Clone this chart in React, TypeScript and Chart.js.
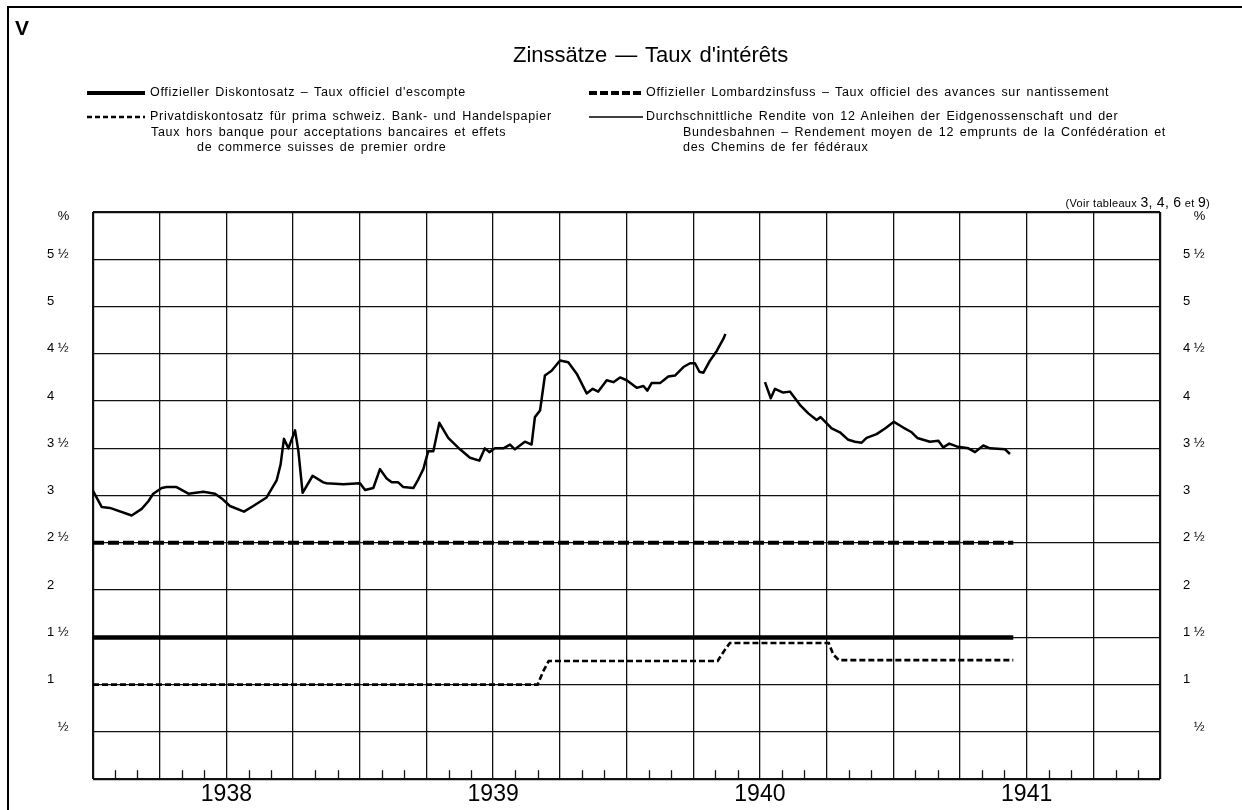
import React, { useEffect, useRef } from "react";
import { Chart, registerables } from "chart.js";

Chart.register(...registerables);

const FONT = '"Liberation Sans", Arial, Helvetica, sans-serif';

// x values are months counted from 1 January 1938 (0) to 1 January 1942 (48)
const yearLabels = ["1938", "1939", "1940", "1941"];
const yearLabelMonths = [6, 18, 30, 42];
const gridMonths = [0, 3, 6, 9, 12, 15, 18, 21, 24, 27, 30, 33, 36, 39, 42, 45, 48];
const minorTickMonths = [1, 2, 4, 5, 7, 8, 10, 11, 13, 14, 16, 17, 19, 20, 22, 23, 25, 26, 28, 29, 31, 32, 34, 35, 37, 38, 40, 41, 43, 44, 46, 47];

const yTickValues = [0, 0.5, 1, 1.5, 2, 2.5, 3, 3.5, 4, 4.5, 5, 5.5, 6];
const yTickLabels = ["", "½", "1", "1½", "2", "2½", "3", "3½", "4", "4½", "5", "5½", ""];
const unitLabel = "%";
const unitLabelValue = 5.9;

// Offizieller Diskontosatz
const diskontMonths = [0, 41.4];
const diskontRates = [1.5, 1.5];

// Offizieller Lombardzinsfuss
const lombardMonths = [0, 41.4];
const lombardRates = [2.5, 2.5];

// Privatdiskontosatz
const privatMonths = [0, 10, 20.0, 20.25, 20.5, 28.1, 28.4, 28.65, 33.1, 33.3, 33.55, 41.4];
const privatRates = [1.0, 1.0, 1.0, 1.14, 1.25, 1.25, 1.36, 1.44, 1.44, 1.32, 1.26, 1.26];

// Durchschnittliche Rendite (gap at the turn of 1939/1940)
const renditeMonths = [
  0.0, 0.39, 0.76, 1.74, 2.19, 2.49, 2.71, 3.09, 3.31, 3.76, 4.29, 4.96, 5.49, 5.79, 6.16,
  6.79, 7.21, 7.81, 8.26, 8.44, 8.59, 8.79, 9.09, 9.24, 9.43, 9.88, 10.36, 10.51, 11.26,
  12.01, 12.24, 12.61, 12.91, 13.21, 13.44, 13.73, 13.96, 14.41, 14.63, 14.86, 15.08, 15.31,
  15.58, 15.98, 16.51, 16.96, 17.38, 17.63, 17.83, 18.08, 18.46, 18.76, 18.98, 19.43, 19.73,
  19.88, 20.11, 20.33, 20.63, 21.01, 21.38, 21.76, 22.21, 22.48, 22.73, 23.11, 23.41, 23.71,
  24.01, 24.46, 24.76, 24.94, 25.13, 25.51, 25.88, 26.18, 26.56, 26.86, 27.08, 27.28, 27.46,
  27.76, 28.06, 28.36, 28.45,
  29.4,
  30.23, 30.49, 30.68, 31.05, 31.35, 31.8, 32.18, 32.55, 32.73, 33.23, 33.6, 33.98, 34.28,
  34.58, 34.8, 35.25, 35.63, 36.03, 36.45, 36.83, 37.08, 37.65, 38.03, 38.25, 38.52, 38.85,
  39.38, 39.68, 40.05, 40.35, 41.03, 41.25,
];
const renditeRates = [
  3.05, 2.88, 2.87, 2.79, 2.86, 2.94, 3.02, 3.08, 3.09, 3.09, 3.02, 3.04, 3.02, 2.97, 2.89,
  2.83, 2.89, 2.98, 3.16, 3.33, 3.6, 3.5, 3.69, 3.47, 3.03, 3.21, 3.14, 3.13, 3.12,
  3.13, 3.06, 3.08, 3.28, 3.18, 3.14, 3.14, 3.09, 3.08, 3.17, 3.28, 3.47, 3.47,
  3.77, 3.61, 3.49, 3.4, 3.37, 3.5, 3.46, 3.5, 3.5, 3.54, 3.49, 3.57, 3.54,
  3.83, 3.9, 4.27, 4.32, 4.43, 4.41, 4.29, 4.08, 4.13, 4.1, 4.22, 4.2, 4.25,
  4.22, 4.14, 4.16, 4.11, 4.19, 4.19, 4.26, 4.27, 4.36, 4.4, 4.4, 4.31, 4.3,
  4.43, 4.53, 4.66, 4.71,
  null,
  4.2, 4.03, 4.13, 4.09, 4.1, 3.96, 3.87, 3.8, 3.83, 3.71, 3.67, 3.59, 3.57,
  3.56, 3.61, 3.65, 3.71, 3.78, 3.72, 3.67, 3.61, 3.57, 3.58, 3.51, 3.55, 3.52,
  3.5, 3.46, 3.53, 3.5, 3.49, 3.44,
];

const toPoints = (xs: number[], ys: (number | null)[]) => xs.map((x, i) => ({ x, y: ys[i] }));

const yLabel = (v: number) => {
  if (v === unitLabelValue) return "   " + unitLabel;
  const i = yTickValues.indexOf(v);
  const t = i >= 0 ? yTickLabels[i] : "";
  if (t === "½") return "   " + t;
  if (t.endsWith("½")) return t.slice(0, -1) + " ½";
  return t;
};

const yTicksWithUnit = () =>
  [...yTickValues.slice(0, -1), unitLabelValue, yTickValues[yTickValues.length - 1]].map((v) => ({ value: v }));

const minorTicksPlugin = {
  id: "minorTicks",
  afterDatasetsDraw(chart: any) {
    const { ctx, chartArea } = chart;
    const x = chart.scales.x;
    ctx.save();
    ctx.strokeStyle = "#111";
    ctx.lineWidth = 1.3;
    for (const m of minorTickMonths) {
      const px = Math.round(x.getPixelForValue(m)) + 0.5;
      ctx.beginPath();
      ctx.moveTo(px, chartArea.bottom);
      ctx.lineTo(px, chartArea.bottom - 9);
      ctx.stroke();
    }
    ctx.restore();
  },
};

function LegendLine({ dash, width, len }: { dash?: string; width: number; len: number }) {
  return (
    <svg width={len} height={8} style={{ position: "absolute", left: 0, top: 0 }}>
      <line x1={1} y1={4} x2={len - 1} y2={4} stroke="#000" strokeWidth={width} strokeDasharray={dash} />
    </svg>
  );
}

const legendText: React.CSSProperties = {
  position: "absolute",
  fontSize: 12.5,
  lineHeight: "15px",
  whiteSpace: "nowrap",
  letterSpacing: 0.7,
  wordSpacing: 1.5,
};

export default function App() {
  const ref = useRef<HTMLCanvasElement | null>(null);

  useEffect(() => {
    const canvas = ref.current;
    if (!canvas) return;
    const gridWidth = (edgeA: number, edgeB: number) => (c: any) => {
      if (!c.tick) return 1.3;
      if (c.tick.value === unitLabelValue && edgeB === 6) return 0;
      return c.tick.value === edgeA || c.tick.value === edgeB ? 2.2 : 1.3;
    };
    const chart = new Chart(canvas, {
      type: "line",
      data: {
        datasets: [
          {
            label: "Offizieller Diskontosatz",
            data: toPoints(diskontMonths, diskontRates),
            borderColor: "#000",
            borderWidth: 4.5,
            pointRadius: 0,
          },
          {
            label: "Offizieller Lombardzinsfuss",
            data: toPoints(lombardMonths, lombardRates),
            borderColor: "#000",
            borderWidth: 4,
            borderDash: [11, 4],
            pointRadius: 0,
          },
          {
            label: "Privatdiskontosatz",
            data: toPoints(privatMonths, privatRates),
            borderColor: "#000",
            borderWidth: 2.6,
            borderDash: [6, 3],
            pointRadius: 0,
          },
          {
            label: "Durchschnittliche Rendite",
            data: toPoints(renditeMonths, renditeRates),
            borderColor: "#000",
            borderWidth: 2.5,
            pointRadius: 0,
            spanGaps: false,
            borderJoinStyle: "round",
          },
        ],
      },
      options: {
        animation: false,
        responsive: false,
        maintainAspectRatio: false,
        layout: { padding: { left: 47, top: 212, right: 0, bottom: 0 } },
        plugins: { legend: { display: false }, tooltip: { enabled: false }, title: { display: false } },
        scales: {
          x: {
            type: "linear",
            min: 0,
            max: 48,
            afterBuildTicks: (s: any) => {
              s.ticks = gridMonths.map((v) => ({ value: v }));
            },
            afterFit: (s: any) => {
              s.height = 26;
            },
            ticks: {
              autoSkip: false,
              maxRotation: 0,
              padding: 2,
              color: "#000",
              font: { family: FONT, size: 23 },
              callback: (v: any) => {
                const i = yearLabelMonths.indexOf(Number(v));
                return i >= 0 ? yearLabels[i] : "";
              },
            },
            grid: {
              color: "#111",
              drawTicks: false,
              lineWidth: gridWidth(0, 48),
            },
            border: { display: false },
          },
          y: {
            type: "linear",
            position: "left",
            min: 0,
            max: 6,
            afterBuildTicks: (s: any) => {
              s.ticks = yTicksWithUnit();
            },
            afterFit: (s: any) => {
              s.width = 46;
            },
            ticks: {
              autoSkip: false,
              crossAlign: "far",
              labelOffset: -5,
              color: "#000",
              font: { family: FONT, size: 13 },
              callback: (v: any) => yLabel(Number(v)),
            },
            grid: {
              color: "#111",
              drawTicks: false,
              lineWidth: gridWidth(0, 6),
            },
            border: { display: false },
          },
          y2: {
            type: "linear",
            position: "right",
            min: 0,
            max: 6,
            afterBuildTicks: (s: any) => {
              s.ticks = yTicksWithUnit();
            },
            afterFit: (s: any) => {
              s.width = 82;
            },
            ticks: {
              autoSkip: false,
              padding: 23,
              labelOffset: -5,
              color: "#000",
              font: { family: FONT, size: 13 },
              callback: (v: any) => yLabel(Number(v)),
            },
            grid: { display: false, drawTicks: false },
            border: { display: false },
          },
        },
      },
      plugins: [minorTicksPlugin],
    } as any);
    return () => chart.destroy();
  }, []);

  return (
    <div
      style={{
        position: "fixed",
        left: 0,
        top: 0,
        width: 1242,
        height: 810,
        background: "#fff",
        fontFamily: FONT,
        color: "#000",
        overflow: "hidden",
      }}
    >
      <canvas ref={ref} width={1242} height={810} style={{ position: "absolute", left: 0, top: 0 }} />
      <div style={{ position: "absolute", left: 7, top: 6, width: 1242, height: 810, borderLeft: "2px solid #000", borderTop: "2px solid #000" }} />
      <div style={{ position: "absolute", left: 15, top: 17, fontSize: 21, lineHeight: "21px", fontWeight: "bold" }}>V</div>
      <div style={{ position: "absolute", left: 513, top: 44, fontSize: 22, lineHeight: "22px", whiteSpace: "nowrap", wordSpacing: 2 }}>
        Zinssätze — Taux d'intérêts
      </div>

      <div style={{ position: "absolute", left: 86, top: 89, width: 60, height: 8 }}>
        <LegendLine width={4} len={60} />
      </div>
      <div style={{ ...legendText, left: 150, top: 85 }}>Offizieller Diskontosatz – Taux officiel d'escompte</div>
      <div style={{ position: "absolute", left: 86, top: 113, width: 60, height: 8 }}>
        <LegendLine width={2.4} dash="5 3" len={60} />
      </div>
      <div style={{ ...legendText, left: 150, top: 109 }}>Privatdiskontosatz für prima schweiz. Bank- und Handelspapier</div>
      <div style={{ ...legendText, left: 151, top: 125 }}>Taux hors banque pour acceptations bancaires et effets</div>
      <div style={{ ...legendText, left: 197, top: 140 }}>de commerce suisses de premier ordre</div>

      <div style={{ position: "absolute", left: 588, top: 89, width: 56, height: 8 }}>
        <LegendLine width={4} dash="8 3" len={56} />
      </div>
      <div style={{ ...legendText, left: 646, top: 85 }}>
        Offizieller Lombardzinsfuss – Taux officiel des avances sur nantissement
      </div>
      <div style={{ position: "absolute", left: 588, top: 113, width: 56, height: 8 }}>
        <LegendLine width={1.6} len={56} />
      </div>
      <div style={{ ...legendText, left: 646, top: 109 }}>
        Durchschnittliche Rendite von 12 Anleihen der Eidgenossenschaft und der
      </div>
      <div style={{ ...legendText, left: 683, top: 125 }}>
        Bundesbahnen – Rendement moyen de 12 emprunts de la Confédération et
      </div>
      <div style={{ ...legendText, left: 683, top: 140 }}>des Chemins de fer fédéraux</div>

      <div style={{ position: "absolute", right: 32, top: 194, fontSize: 11, whiteSpace: "nowrap", letterSpacing: 0.3 }}>
        (Voir tableaux <span style={{ fontSize: 14 }}>3, 4, 6</span> et <span style={{ fontSize: 14 }}>9</span>)
      </div>
    </div>
  );
}
